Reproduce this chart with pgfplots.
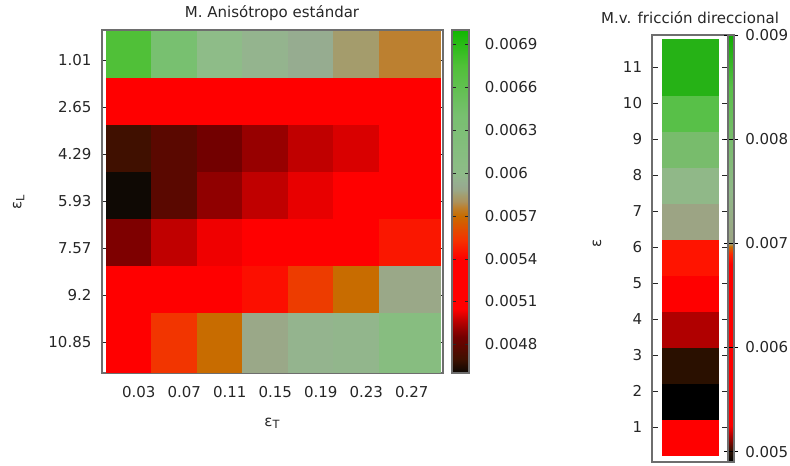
\documentclass[border=0pt]{standalone}
\usepackage{pgfplots}
\pgfplotsset{compat=1.18}
\usepackage{fontspec}
\setmainfont{DejaVu Sans}
\definecolor{txt}{RGB}{38,38,38}
\definecolor{frm}{RGB}{110,110,110}
\pgfplotsset{
 colormap={leftmap}{rgb255(460pt)=(10,8,4) rgb255(470pt)=(64,16,0) rgb255(478pt)=(90,8,0)
  rgb255(485pt)=(114,0,0) rgb255(490pt)=(144,0,0) rgb255(497pt)=(192,0,0) rgb255(501pt)=(225,0,0)
  rgb255(505pt)=(255,0,0) rgb255(540pt)=(255,0,0) rgb255(553pt)=(245,50,0) rgb255(570pt)=(200,108,0)
  rgb255(576pt)=(188,128,48) rgb255(580pt)=(172,146,92) rgb255(584pt)=(164,156,108)
  rgb255(588pt)=(154,168,136) rgb255(592pt)=(150,172,144) rgb255(596pt)=(148,180,142)
  rgb255(600pt)=(142,188,136) rgb255(640pt)=(120,192,112) rgb255(675pt)=(80,192,56) rgb255(700pt)=(16,184,0)},
 colormap={rightmap}{rgb255(490pt)=(0,0,0) rgb255(500pt)=(42,16,0) rgb255(515pt)=(176,0,0)
  rgb255(525pt)=(255,0,0) rgb255(680pt)=(255,0,0) rgb255(690pt)=(255,40,0) rgb255(697pt)=(200,112,0)
  rgb255(700pt)=(156,164,132) rgb255(750pt)=(144,184,136) rgb255(800pt)=(120,188,108)
  rgb255(850pt)=(88,192,72) rgb255(900pt)=(16,172,0)},
 colorbar shift/.style={},
}
\begin{document}
\fontsize{11.25}{13.5}\selectfont
\begin{tikzpicture}
\path[use as bounding box] (0,0) rectangle (592.5pt,349.5pt);
% ---------------- left panel ----------------
\begin{axis}[
  at={(76.5pt,69.75pt)}, anchor=south west, scale only axis,
  width=255.75pt, height=257.25pt,
  xmin=-0.588, xmax=6.907, ymin=-0.521, ymax=6.777, y dir=reverse,
  colormap name=leftmap, point meta min=0.0046, point meta max=0.0070,
  xtick={0.22,1.22,2.22,3.22,4.22,5.22,6.22},
  xticklabels={0.03,0.07,0.11,0.15,0.19,0.23,0.27},
  ytick={0.12,1.12,2.12,3.12,4.12,5.12,6.12},
  yticklabels={1.01,2.65,4.29,5.93,7.57,9.2,10.85},
  xtick style={draw=none}, ytick pos=both, tick align=inside,
  major tick length=3.5pt, tick style={txt},
  axis line style={frm, line width=0.8pt},
  tick label style={txt},
  xticklabel style={yshift=-6pt},
  yticklabel style={xshift=-4pt},
  /pgf/number format/assume math mode=true,
  colorbar,
  colorbar style={at={(parent axis.north east)}, anchor=north west, xshift=6.75pt,
    width=12.75pt, scaled y ticks=false,
    ytick={0.0048,0.0051,0.0054,0.0057,0.006,0.0063,0.0066,0.0069},
    yticklabels={0.0048,0.0051,0.0054,0.0057,0.006,0.0063,0.0066,0.0069},
    ytick pos=both, yticklabel pos=right, tick align=inside, major tick length=3pt,
    yticklabel style={xshift=8pt, txt}, axis line style={frm, line width=0.8pt}},
]
\addplot[surf, shader=flat corner, mesh/cols=8, point meta=explicit] table[meta=v] {
x y v
-0.5 -0.5 0.00675
0.5 -0.5 0.00640
1.5 -0.5 0.00600
2.5 -0.5 0.00596
3.5 -0.5 0.00592
4.5 -0.5 0.00584
5.5 -0.5 0.00576
6.84 -0.5 0.00576
-0.5 0.5 0.00515
0.5 0.5 0.00518
1.5 0.5 0.00520
2.5 0.5 0.00522
3.5 0.5 0.00525
4.5 0.5 0.00528
5.5 0.5 0.00530
6.84 0.5 0.00530
-0.5 1.5 0.00470
0.5 1.5 0.00478
1.5 1.5 0.00485
2.5 1.5 0.00491
3.5 1.5 0.00497
4.5 1.5 0.00500
5.5 1.5 0.00510
6.84 1.5 0.00510
-0.5 2.5 0.00461
0.5 2.5 0.00478
1.5 2.5 0.00490
2.5 2.5 0.00497
3.5 2.5 0.00502
4.5 2.5 0.00512
5.5 2.5 0.00515
6.84 2.5 0.00515
-0.5 3.5 0.00487
0.5 3.5 0.00497
1.5 3.5 0.00503
2.5 3.5 0.00515
3.5 3.5 0.00520
4.5 3.5 0.00525
5.5 3.5 0.00546
6.84 3.5 0.00546
-0.5 4.5 0.00525
0.5 4.5 0.00528
1.5 4.5 0.00530
2.5 4.5 0.00544
3.5 4.5 0.00556
4.5 4.5 0.00570
5.5 4.5 0.00588
6.84 4.5 0.00588
-0.5 5.5 0.00535
0.5 5.5 0.00554
1.5 5.5 0.00570
2.5 5.5 0.00588
3.5 5.5 0.00596
4.5 5.5 0.00597
5.5 5.5 0.00613
6.84 5.5 0.00613
-0.5 6.755 0.00535
0.5 6.755 0.00554
1.5 6.755 0.00570
2.5 6.755 0.00588
3.5 6.755 0.00596
4.5 6.755 0.00597
5.5 6.755 0.00613
6.84 6.755 0.00613
};
\end{axis}
% ---------------- right panel ----------------
\begin{axis}[
  at={(489pt,3pt)}, anchor=south west, scale only axis,
  width=57pt, height=320.25pt,
  xmin=0, xmax=1, ymin=0.028, ymax=11.89,
  colormap name=rightmap, point meta min=0.0049, point meta max=0.009,
  xtick=\empty, ytick={1,2,3,4,5,6,7,8,9,10,11},
  ytick pos=both, tick align=inside, major tick length=4.5pt, tick style={txt},
  axis line style={frm, line width=0.8pt},
  tick label style={txt},
  yticklabel style={xshift=-3.5pt},
  /pgf/number format/assume math mode=true,
  colorbar,
  colorbar style={at={(parent axis.north east)}, anchor=north west, xshift=0pt,
    width=4.5pt, scaled y ticks=false,
    ytick={0.005,0.006,0.007,0.008,0.009},
    yticklabels={0.005,0.006,0.007,0.008,0.009},
    ytick pos=both, yticklabel pos=right, tick align=center, major tick length=6pt,
    tick style={black}, yticklabel style={xshift=1.5pt, txt}, axis line style={frm, line width=0.8pt}},
]
\addplot[surf, shader=flat corner, mesh/cols=2, point meta=explicit] table[meta=v] {
x y v
0.13 0.22 0.00600
0.87 0.22 0.00600
0.13 1.22 0.00490
0.87 1.22 0.00490
0.13 2.22 0.00500
0.87 2.22 0.00500
0.13 3.22 0.00515
0.87 3.22 0.00515
0.13 4.22 0.00620
0.87 4.22 0.00620
0.13 5.22 0.00685
0.87 5.22 0.00685
0.13 6.22 0.00700
0.87 6.22 0.00700
0.13 7.22 0.00750
0.87 7.22 0.00750
0.13 8.22 0.00800
0.87 8.22 0.00800
0.13 9.22 0.00850
0.87 9.22 0.00850
0.13 10.22 0.00885
0.87 10.22 0.00885
0.13 11.78 0.00885
0.87 11.78 0.00885
};
\end{axis}
% ---------------- titles and labels ----------------
\node[txt] at (204pt,339.75pt) {M. Anisótropo estándar};
\node[txt] at (517.5pt,336pt) {M.v. fricción direccional};
\node[txt] at (204pt,32pt) {ε\raisebox{-0.35ex}{\fontsize{8.5}{10}\selectfont T}};
\node[txt, rotate=90] at (14pt,198pt) {ε\raisebox{-0.35ex}{\fontsize{8.5}{10}\selectfont L}};
\node[txt, rotate=90] at (447.75pt,167.25pt) {ε};
\end{tikzpicture}
\end{document}
